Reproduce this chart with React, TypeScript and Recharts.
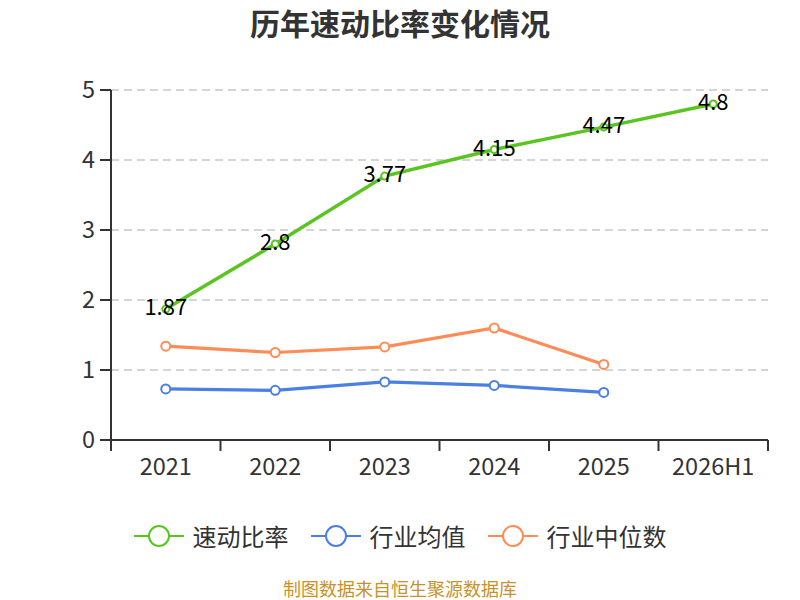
import { CartesianGrid, LabelList, Legend, Line, LineChart, XAxis, YAxis } from "recharts";

const years = ["2021", "2022", "2023", "2024", "2025", "2026H1"];
const quickRatio = [1.87, 2.8, 3.77, 4.15, 4.47, 4.8];
const industryAvg = [0.73, 0.71, 0.83, 0.78, 0.68, null];
const industryMedian = [1.34, 1.25, 1.33, 1.6, 1.08, null];
const yTicks = [0, 1, 2, 3, 4, 5];

const FONT = '"Noto Sans CJK SC", "Noto Sans", sans-serif';
const GREEN = "#5ac421";
const BLUE = "#4b7fe2";
const ORANGE = "#ff8c57";

const W = 800;
const H = 600;
const PLOT_LEFT = 111;
const PLOT_RIGHT = 768;
const BAND = (PLOT_RIGHT - PLOT_LEFT) / years.length;

const rows = years.map((year, i) => ({
  year,
  quick: quickRatio[i],
  avg: industryAvg[i],
  median: industryMedian[i],
}));

const seriesMeta = [
  { key: "quick", name: "速动比率", color: GREEN },
  { key: "avg", name: "行业均值", color: BLUE },
  { key: "median", name: "行业中位数", color: ORANGE },
];

function XTick(props: any) {
  const { x, y, payload, index } = props;
  const left = x - BAND / 2;
  return (
    <g>
      <line x1={left} y1={y - 8} x2={left} y2={y + 3} stroke="#333" strokeWidth={2} />
      {index === years.length - 1 && (
        <line x1={x + BAND / 2} y1={y - 8} x2={x + BAND / 2} y2={y + 3} stroke="#333" strokeWidth={2} />
      )}
      <text x={x} y={y + 27} textAnchor="middle" fontSize={23.5} fill="#333" fontFamily={FONT}>
        {payload.value}
      </text>
    </g>
  );
}

function PointLabel(props: any) {
  const { x, y, value } = props;
  if (value == null) return null;
  return (
    <text x={x} y={y + 6} textAnchor="middle" fontSize={22} fill="#000" fontFamily={FONT}>
      {value}
    </text>
  );
}

function LegendContent() {
  return (
    <div style={{ display: "flex", justifyContent: "center", gap: 22, fontFamily: FONT }}>
      {seriesMeta.map((s) => (
        <div key={s.key} style={{ display: "flex", alignItems: "center" }}>
          <svg width={50} height={26}>
            <line x1={0} y1={13} x2={50} y2={13} stroke={s.color} strokeWidth={2} />
            <circle cx={25} cy={13} r={10} fill="#fff" stroke={s.color} strokeWidth={2} />
          </svg>
          <span style={{ fontSize: 24, color: "#333", marginLeft: 9 }}>{s.name}</span>
        </div>
      ))}
    </div>
  );
}

export default function App() {
  return (
    <div style={{ position: "absolute", left: 0, top: 0, width: W, height: H, background: "#fff" }}>
      <div
        style={{
          position: "absolute",
          top: 0,
          left: 0,
          width: W,
          textAlign: "center",
          fontFamily: FONT,
          fontWeight: "bold",
          fontSize: 30,
          lineHeight: "44px",
          color: "#333",
        }}
      >
        历年速动比率变化情况
      </div>
      <LineChart
        width={W}
        height={H}
        data={rows}
        margin={{ top: 90, right: W - PLOT_RIGHT, left: PLOT_LEFT - 60, bottom: 120 }}
      >
        <CartesianGrid vertical={false} stroke="#c8c8c8" strokeDasharray="8 5" strokeWidth={1.5} />
        <XAxis
          dataKey="year"
          height={40}
          padding={{ left: BAND / 2, right: BAND / 2 }}
          tickLine={false}
          axisLine={{ stroke: "#333", strokeWidth: 2 }}
          tick={<XTick />}
          interval={0}
        />
        <YAxis
          width={60}
          domain={[0, 5]}
          ticks={yTicks}
          tickSize={11}
          tickMargin={5}
          axisLine={{ stroke: "#333", strokeWidth: 2 }}
          tickLine={{ stroke: "#333", strokeWidth: 2 }}
          tick={{ fontSize: 23.5, fill: "#333", fontFamily: FONT }}
        />
        <Legend
          verticalAlign="middle"
          align="center"
          layout="horizontal"
          content={<LegendContent />}
          wrapperStyle={{ top: 518, left: 0, width: W }}
        />
        <Line
          dataKey="avg"
          name="行业均值"
          stroke={BLUE}
          strokeWidth={3.2}
          dot={{ r: 4.5, fill: "#fff", stroke: BLUE, strokeWidth: 2 }}
          isAnimationActive={false}
        />
        <Line
          dataKey="median"
          name="行业中位数"
          stroke={ORANGE}
          strokeWidth={3.2}
          dot={{ r: 4.5, fill: "#fff", stroke: ORANGE, strokeWidth: 2 }}
          isAnimationActive={false}
        />
        <Line
          dataKey="quick"
          name="速动比率"
          stroke={GREEN}
          strokeWidth={3.5}
          dot={{ r: 3.5, fill: "#fff", stroke: GREEN, strokeWidth: 2 }}
          isAnimationActive={false}
        >
          <LabelList dataKey="quick" content={<PointLabel />} />
        </Line>
      </LineChart>
      <div
        style={{
          position: "absolute",
          top: 578,
          left: 0,
          width: W,
          textAlign: "center",
          fontFamily: FONT,
          fontSize: 18,
          lineHeight: "20px",
          color: "#c8922a",
        }}
      >
        制图数据来自恒生聚源数据库
      </div>
    </div>
  );
}
